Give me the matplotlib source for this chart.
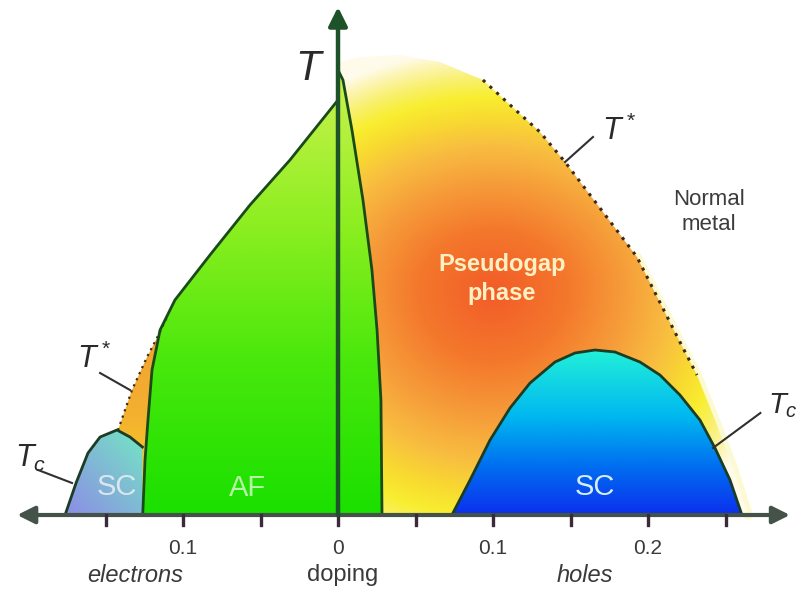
import numpy as np
import matplotlib.pyplot as plt
from matplotlib.colors import LinearSegmentedColormap, to_rgb
from matplotlib.patches import Polygon

plt.rcParams['font.family'] = ['Liberation Sans', 'DejaVu Sans']
plt.rcParams['mathtext.fontset'] = 'custom'
plt.rcParams['mathtext.it'] = 'Liberation Sans:italic'
plt.rcParams['mathtext.rm'] = 'Liberation Sans'

# phase boundaries: doping (electrons < 0 < holes) vs temperature (arb. units)
af_left_x = [-0.126, -0.1245, -0.1226, -0.120, -0.1148, -0.1052, -0.0826, -0.0568, -0.031, 0.0]
af_left_T = [0.0, 0.11, 0.19, 0.29, 0.37, 0.43, 0.52, 0.62, 0.71, 0.83]
af_right_x = [0.0, 0.0032, 0.009, 0.0161, 0.0219, 0.0252, 0.0277, 0.0284]
af_right_T = [0.89, 0.87, 0.77, 0.63, 0.49, 0.37, 0.23, 0.0]

pg_x = [0.0, 0.0142, 0.04, 0.0658, 0.0935, 0.1174, 0.1303, 0.1465, 0.169, 0.1929,
        0.2206, 0.2316, 0.2432, 0.2542, 0.2645]
pg_T = [0.906, 0.916, 0.92, 0.906, 0.87, 0.802, 0.766, 0.706, 0.614, 0.516,
        0.346, 0.28, 0.19, 0.10, 0.0]

pg_left_x = [-0.1535, -0.1471, -0.1419, -0.1329, -0.1232, -0.1168, -0.1097]
pg_left_T = [0.0, 0.11, 0.17, 0.25, 0.316, 0.354, 0.40]

sc_h_x = [0.0735, 0.0852, 0.0981, 0.111, 0.1239, 0.14, 0.1529, 0.1658, 0.1787,
          0.1948, 0.2077, 0.2206, 0.2335, 0.2432, 0.2529, 0.2606]
sc_h_T = [0.0, 0.07, 0.15, 0.214, 0.264, 0.306, 0.324, 0.33, 0.326, 0.306,
          0.28, 0.24, 0.19, 0.134, 0.07, 0.0]

sc_e_x = [-0.1761, -0.169, -0.1613, -0.1535, -0.1426, -0.1342, -0.1262]
sc_e_T = [0.0, 0.064, 0.124, 0.156, 0.17, 0.156, 0.136]

tick_pos = [-0.15, -0.1, -0.05, 0.0, 0.05, 0.1, 0.15, 0.2, 0.25]
tick_lab_pos = [-0.1, 0.0, 0.1, 0.2]
tick_lab = ['0.1', '0', '0.1', '0.2']

xmin, xmax = -338 / 1550, 459 / 1550
ymin, ymax = -0.148, 1.03

fig = plt.figure(figsize=(7.97, 5.89), dpi=100)
ax = fig.add_axes([0, 0, 1, 1])
ax.set_xlim(xmin, xmax)
ax.set_ylim(ymin, ymax)
ax.axis('off')

gx = np.linspace(xmin, xmax, 600)
gy = np.linspace(ymin, ymax, 600)
X, Y = np.meshgrid(gx, gy)
ext = [xmin, xmax, ymin, ymax]


def clip_patch(xs, ys):
    p = Polygon(np.column_stack([xs, ys]), closed=True, facecolor='none', edgecolor='none')
    ax.add_patch(p)
    return p


# pseudogap (hole side): radial orange -> yellow -> pale
pg_cmap = LinearSegmentedColormap.from_list('pg', [
    (0.0, '#f25c28'), (0.25, '#f4782c'), (0.45, '#f69e3a'), (0.6, '#f8be40'),
    (0.72, '#f8dc30'), (0.8, '#f8ee30'), (0.88, '#f9f070'), (0.95, '#fcf5b4'),
    (1.0, '#fffbea')])
ry = np.where(Y > 0.45, 0.44, 0.52)
R = np.sqrt(((X - 0.10) / 0.175) ** 2 + ((Y - 0.45) / ry) ** 2)
p = clip_patch([0.0] + pg_x, [0.0] + pg_T)
im = ax.imshow(R, extent=ext, origin='lower', cmap=pg_cmap, vmin=0, vmax=1.1,
               aspect='auto', zorder=1)
im.set_clip_path(p)

# soft glow on the lower right edge
ax.plot(pg_x[9:], pg_T[9:], color='#f8f070', lw=7, alpha=0.3, zorder=0.9,
        solid_capstyle='round')

# pseudogap strip on the electron side
strip_cmap = LinearSegmentedColormap.from_list('st', ['#f8e020', '#f4b030', '#f0a030'])
sx = pg_left_x + [x for x, t in zip(af_left_x[::-1], af_left_T[::-1]) if t < 0.4]
sy = pg_left_T + [t for t in af_left_T[::-1] if t < 0.4]
p = clip_patch(sx, sy)
im = ax.imshow(Y, extent=ext, origin='lower', cmap=strip_cmap, vmin=0, vmax=0.4,
               aspect='auto', zorder=1)
im.set_clip_path(p)
ax.plot(pg_left_x, pg_left_T, color='#3a2a1a', lw=1.6, ls=(0, (1, 2)), zorder=3)

# AF region
af_cmap = LinearSegmentedColormap.from_list('af', [
    (0.0, '#1ae000'), (0.35, '#4ae80c'), (0.65, '#8cee20'), (1.0, '#cdf250')])
p = clip_patch(af_left_x + af_right_x, af_left_T + af_right_T)
im = ax.imshow(Y, extent=ext, origin='lower', cmap=af_cmap, vmin=0, vmax=0.89,
               aspect='auto', zorder=2)
im.set_clip_path(p)
ax.plot(af_left_x, af_left_T, color='#1a4a1a', lw=2, zorder=4)
ax.plot(af_right_x, af_right_T, color='#1a4a1a', lw=2, zorder=4)

# hole SC dome
sch_cmap = LinearSegmentedColormap.from_list('sch', [
    (0.0, '#0c30ee'), (0.3, '#0070f0'), (0.6, '#00b8f0'), (1.0, '#22f0d8')])
p = clip_patch(sc_h_x, sc_h_T)
im = ax.imshow(Y, extent=ext, origin='lower', cmap=sch_cmap, vmin=0, vmax=0.33,
               aspect='auto', zorder=3)
im.set_clip_path(p)
ax.plot(sc_h_x, sc_h_T, color='#1c3c24', lw=2, zorder=4)

# electron SC dome
c0 = np.array(to_rgb('#8c8ce6'))
c1 = np.array(to_rgb('#74e6c4'))
S = np.clip(((X + 0.176) / 0.05 + Y / 0.17) / 2, 0, 1)
img = c0[None, None, :] * (1 - S[..., None]) + c1[None, None, :] * S[..., None]
p = clip_patch(sc_e_x + [-0.1262], sc_e_T + [0.0])
im = ax.imshow(img, extent=ext, origin='lower', aspect='auto', zorder=3)
im.set_clip_path(p)
ax.plot(sc_e_x, sc_e_T, color='#1c3c24', lw=2, zorder=4)

# T* dotted line
ax.plot(pg_x[4:12], pg_T[4:12], color='#3a2a1a', lw=2.2, ls=(0, (1, 2)), zorder=3)

# axes
ax.annotate('', xy=(0, 1.016), xytext=(0, 0),
            arrowprops=dict(arrowstyle='-|>', lw=3.2, color='#1e5228',
                            mutation_scale=28, shrinkA=0, shrinkB=0), zorder=6)
ax.annotate('', xy=(0.2916, 0), xytext=(-0.207, 0),
            arrowprops=dict(arrowstyle='<|-|>', lw=3, color='#45524a',
                            mutation_scale=26, shrinkA=0, shrinkB=0), zorder=5)
for t in tick_pos:
    ax.plot([t, t], [0, -0.02], color='#3a2a3a', lw=2.4, zorder=5)
for t, s in zip(tick_lab_pos, tick_lab):
    ax.text(t, -0.066, s, ha='center', va='center', fontsize=15, color='#3a3a3a')
ax.text(-0.131, -0.12, 'electrons', ha='center', va='center', fontsize=17,
        style='italic', color='#3a3a3a')
ax.text(0.003, -0.12, 'doping', ha='center', va='center', fontsize=17, color='#3a3a3a')
ax.text(0.159, -0.12, 'holes', ha='center', va='center', fontsize=17,
        style='italic', color='#3a3a3a')

# temperature labels and leaders
ax.text(-0.0277, 0.87, r'$T$', fontsize=30, color='#2a2a2a', ha='left', va='baseline')
ax.text(0.1703, 0.75, r'$T^*$', fontsize=22, color='#2a2a2a', ha='left', va='baseline')
ax.text(-0.1684, 0.294, r'$T^*$', fontsize=22, color='#2a2a2a', ha='left', va='baseline')
ax.text(-0.2084, 0.096, r'$T_c$', fontsize=22, color='#2a2a2a', ha='left', va='baseline')
ax.text(0.2772, 0.204, r'$T_c$', fontsize=21, color='#2a2a2a', ha='left', va='baseline')
ax.plot([0.1465, 0.1645], [0.706, 0.756], color='#303030', lw=1.5, zorder=5)
ax.plot([-0.1535, -0.1342], [0.284, 0.25], color='#303030', lw=1.5, zorder=5)
ax.plot([-0.1935, -0.1716], [0.09, 0.064], color='#303030', lw=1.5, zorder=5)
ax.plot([0.2419, 0.2725], [0.134, 0.204], color='#303030', lw=1.5, zorder=5)

# phase names
ax.text(0.2394, 0.606, 'Normal\nmetal', ha='center', va='center', fontsize=16,
        color='#3c3c3c', linespacing=1.3)
ax.text(0.1058, 0.472, 'Pseudogap\nphase', ha='center', va='center', fontsize=17,
        fontweight='bold', color='#fff0c4', linespacing=1.3, zorder=6)
ax.text(0.1658, 0.056, 'SC', ha='center', va='center', fontsize=21,
        color='#d4eeff', zorder=6)
ax.text(-0.0581, 0.054, 'AF', ha='center', va='center', fontsize=21,
        color='#b4f4a4', zorder=6)
ax.text(-0.1426, 0.056, 'SC', ha='center', va='center', fontsize=21,
        color='#e8f0f0', alpha=0.85, zorder=6)

plt.savefig('out.png', dpi=100)
plt.close()
